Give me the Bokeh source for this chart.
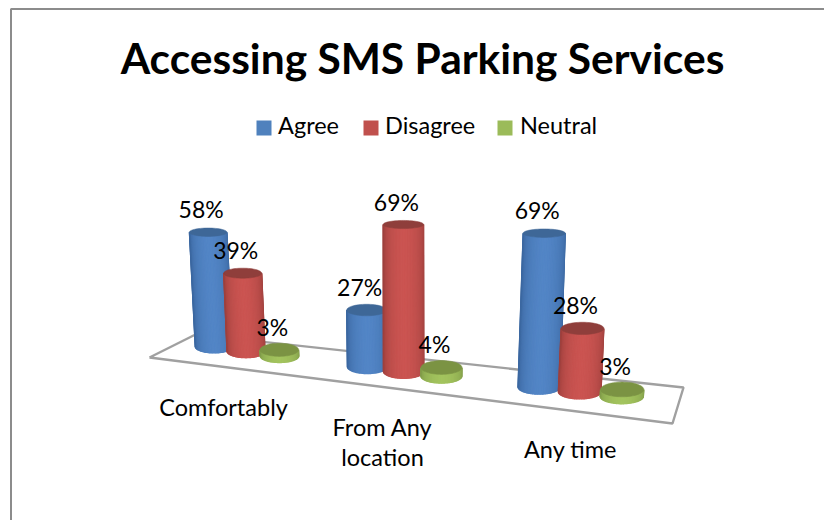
from bokeh.plotting import figure
from bokeh.embed import file_html
from bokeh.resources import INLINE
from bokeh.models import Range1d
from bokeh.core.properties import value
import numpy as np

# ---- data ----
categories = ["Comfortably", "From Any\nlocation", "Any time"]
series = ["Agree", "Disagree", "Neutral"]
agree = [58, 27, 69]
disagree = [39, 69, 28]
neutral = [3, 4, 3]
title = "Accessing SMS Parking Services"

# ---- style ----
FONT = "Lato"
side_edge = ["#3A669E", "#9B3F3C", "#7F9A48"]
side_mid = ["#5285C6", "#CB5451", "#A3C45E"]
top_col = ["#3E6797", "#8F3E3B", "#7B9343"]
legend_col = ["#4F81BD", "#C0504D", "#9BBB59"]
label_col = "#000000"

W, H = 824, 520
p = figure(width=W, height=H, output_backend="svg", toolbar_location=None,
           x_range=Range1d(0, W), y_range=Range1d(H, 0),
           min_border=0, outline_line_color=None)
p.xaxis.visible = False
p.yaxis.visible = False
p.grid.visible = False
p.background_fill_color = "white"

# chart frame
p.line([10.5, 10.5, 824], [520, 8.5, 8.5], line_color="#8C8C8C", line_width=2)

# floor
fx = [149, 195, 683, 672, 149]
fy = [357, 334, 387, 423, 357]
p.line(fx, fy, line_color="#A0A0A0", line_width=2.4)


# perspective model: slot position s along the floor
GAP = 4.3
SERIES_SHIFT = [0.5, -1.5, -3]
def base_x(s): return 213 + 33.5 * s + 0.5 * s * s
def base_y(s): return 346 + 4.7 * s
def scale(s): return 1.97 + 0.03 * s
def rx(s): return 18.8 + 0.27 * s
def ry(y): return max(3.8, 6.6 + (y - 351) * 0.02)
def lean(s, h): return h * (base_x(s) - 410) * 0.00026


def mix(a, b, t):
    ca = [int(a[i:i + 2], 16) for i in (1, 3, 5)]
    cb = [int(b[i:i + 2], 16) for i in (1, 3, 5)]
    return "#%02X%02X%02X" % tuple(int(round(x + (y - x) * t)) for x, y in zip(ca, cb))


N = 40
theta = np.linspace(0, np.pi, N + 1)
full = np.linspace(0, 2 * np.pi, 61)
values = [agree, disagree, neutral]
labs = []
for i in range(3):
    for j in range(3):
        s = i * GAP + j
        v = values[j][i]
        h = v * scale(s)
        bx, by = base_x(s) + SERIES_SHIFT[j], base_y(s)
        tx, ty = bx + lean(s, h), by - h
        r = rx(s)
        rb, rt = ry(by), ry(ty)
        xs, ys, cols = [], [], []
        for k in range(N):
            a0, a1 = theta[k], theta[k + 1]
            t = abs((k + 0.5) / N - 0.5) * 2
            cols.append(mix(side_mid[j], side_edge[j], t ** 1.6))
            xs.append([bx + r * np.cos(a0), bx + r * np.cos(a1),
                       tx + r * np.cos(a1), tx + r * np.cos(a0)])
            ys.append([by + rb * np.sin(a0), by + rb * np.sin(a1),
                       ty + rt * np.sin(a1), ty + rt * np.sin(a0)])
        p.patches(xs, ys, fill_color=cols, line_color=cols, line_width=1.2)
        p.patch(tx + r * np.cos(full), ty + rt * np.sin(full),
                fill_color=top_col[j], line_color=top_col[j], line_width=0.5)
        labs.append((tx - 7, ty - 23, f"{v}%"))

# data labels on top of all columns
p.text([l[0] for l in labs], [l[1] for l in labs], text=[l[2] for l in labs],
       text_font=value(FONT), text_font_size="23px", text_color=label_col,
       text_align="center", text_baseline="middle")

# category labels
cat_x = [223, 382, 570]
cat_y = [406.5, 426.5, 448.5]
for cx, cy, c in zip(cat_x, cat_y, categories):
    for n, part in enumerate(c.split("\n")):
        p.text([cx], [cy + n * 30], text=[part], text_font=value(FONT), text_font_size="23.5px",
               text_color=label_col, text_align="center", text_baseline="middle")

# title
p.text([422], [57], text=[title], text_font=value(FONT), text_font_size="42.5px",
       text_font_style="bold", text_color=label_col, text_align="center", text_baseline="middle")

# legend
leg_sw = [256, 363, 497]
leg_tx = [277.5, 384.5, 519.5]
p.quad(left=leg_sw, right=[x + 15 for x in leg_sw], top=[120] * 3, bottom=[135] * 3,
       fill_color=legend_col, line_color=None)
p.text(leg_tx, [124.5] * 3, text=series, text_font=value(FONT), text_font_size="23.5px",
       text_color=label_col, text_align="left", text_baseline="middle")

open("out.html", "w").write(file_html(p, INLINE))
